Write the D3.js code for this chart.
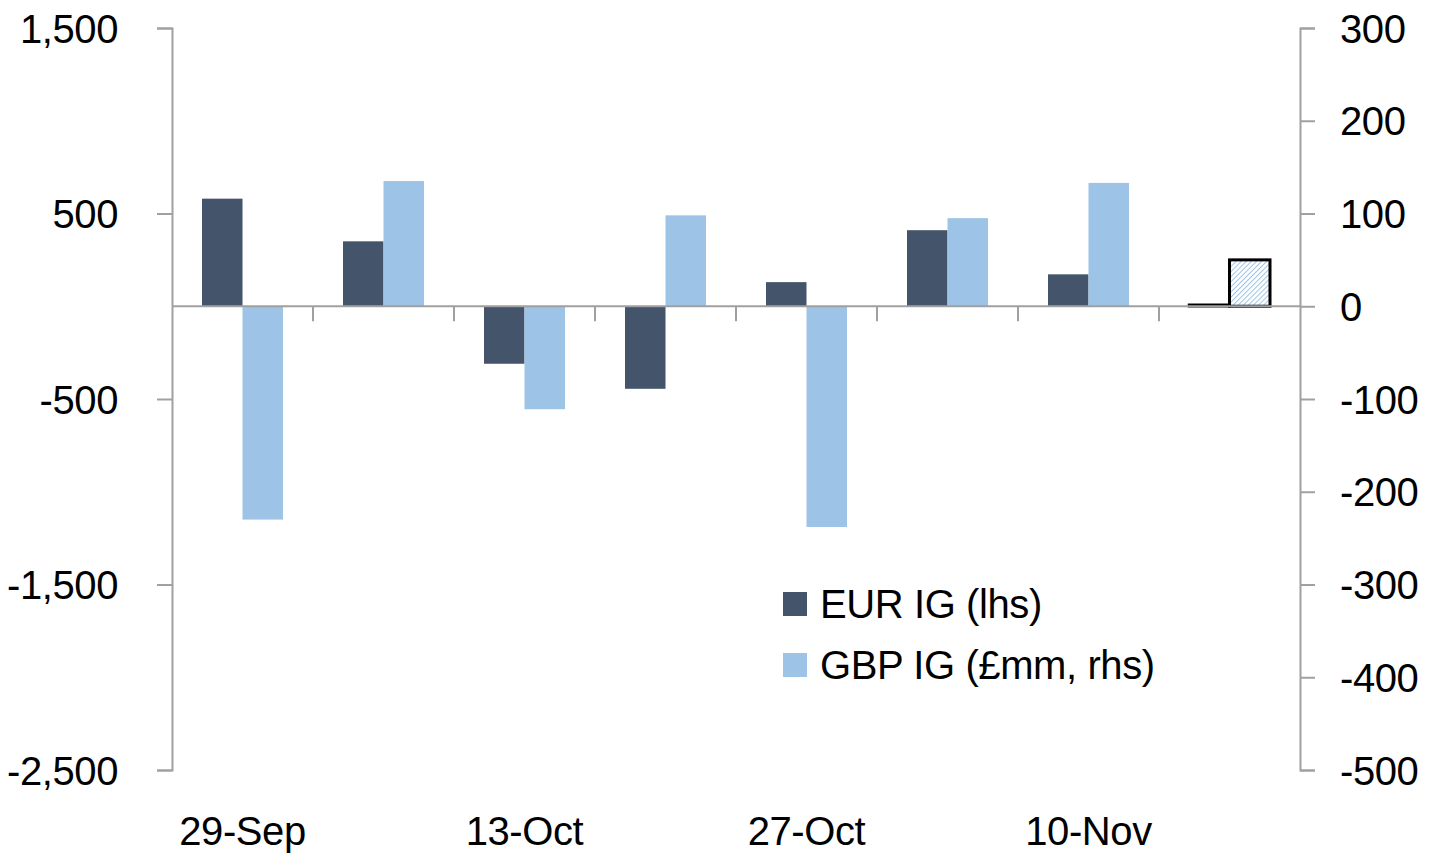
<!DOCTYPE html>
<html><head><meta charset="utf-8">
<script src="https://cdn.jsdelivr.net/npm/d3@7"></script>
<style>body{margin:0;background:#fff;} text{font-family:"Liberation Sans",Arial,sans-serif;letter-spacing:-0.4px;}</style>
</head><body>
<svg id="c" width="1430" height="865"></svg>
<script>
const weeks = ["29-Sep","6-Oct","13-Oct","20-Oct","27-Oct","3-Nov","10-Nov","17-Nov"];
const weekLabels = ["29-Sep","","13-Oct","","27-Oct","","10-Nov",""];
const eurIG = [580, 350, -310, -445, 130, 410, 172, 8];
const gbpIG = [-230, 135, -111, 98, -238, 95, 133, 50];
const partial = [false,false,false,false,false,false,false,true];
const leftTicks = [1500, 500, -500, -1500, -2500];
const rightTicks = [300, 200, 100, 0, -100, -200, -300, -400, -500];

const svg = d3.select("#c");
const L = 172, R = 1300, T = 28, B = 770;
const gray = "#a0a0a0";
const FS = 40;
const yL = d3.scaleLinear().domain([-2500, 1500]).range([B, T]);
const yR = d3.scaleLinear().domain([-500, 300]).range([B, T]);
const x = d3.scaleBand().domain(weeks).range([L, R]);
const bw = 40.5;
const off = (x.bandwidth() - 2*bw)/2;
const fmtL = d => d3.format(",")(d).replace("\u2212","-");
const fmtR = d => String(d);

const defs = svg.append("defs");
const pat = defs.append("pattern").attr("id","hatch").attr("patternUnits","userSpaceOnUse")
  .attr("width",3.6).attr("height",3.6).attr("patternTransform","rotate(45)");
pat.append("rect").attr("width",3.6).attr("height",3.6).attr("fill","#fff");
pat.append("line").attr("x1",0).attr("y1",0).attr("x2",0).attr("y2",3.6).attr("stroke","#9dc3e6").attr("stroke-width",2);

// bars
const g = svg.append("g");
weeks.forEach((w,i)=>{
  const x0 = x(w) + off;
  const ve = eurIG[i], vg = gbpIG[i];
  const eR = g.append("rect").attr("x", x0).attr("width", bw)
    .attr("y", Math.min(yL(ve), yL(0))).attr("height", Math.abs(yL(ve)-yL(0)));
  const gR = g.append("rect").attr("x", x0+bw).attr("width", bw)
    .attr("y", Math.min(yR(vg), yR(0))).attr("height", Math.abs(yR(vg)-yR(0)));
  if (partial[i]) {
    eR.attr("fill","#fff").attr("stroke","#000").attr("stroke-width",2.5);
    gR.attr("fill","url(#hatch)").attr("stroke","#000").attr("stroke-width",3);
  } else {
    eR.attr("fill","#44546a");
    gR.attr("fill","#9dc3e6");
  }
});

// zero line and category ticks
svg.append("line").attr("x1",L).attr("x2",R).attr("y1",yL(0)).attr("y2",yL(0)).attr("stroke",gray).attr("stroke-width",2);
weeks.slice(1).forEach(w=>{
  svg.append("line").attr("x1",x(w)).attr("x2",x(w)).attr("y1",yL(0)).attr("y2",yL(0)+15).attr("stroke",gray).attr("stroke-width",2);
});

// left axis
const la = svg.append("g").attr("transform",`translate(${L},0)`)
  .call(d3.axisLeft(yL).tickValues(leftTicks).tickSize(15).tickPadding(39).tickFormat(fmtL));
la.select(".domain").attr("stroke",gray).attr("stroke-width",2);
la.selectAll(".tick line").attr("stroke",gray).attr("stroke-width",2);
la.selectAll("text").attr("font-size",FS).attr("fill","#000").attr("font-family","Liberation Sans, Arial, sans-serif").attr("dy","0.35em");

// right axis
const ra = svg.append("g").attr("transform",`translate(${R},0)`)
  .call(d3.axisRight(yR).tickValues(rightTicks).tickSize(15).tickPadding(25).tickFormat(fmtR));
ra.select(".domain").attr("stroke",gray).attr("stroke-width",2);
ra.selectAll(".tick line").attr("stroke",gray).attr("stroke-width",2);
ra.selectAll("text").attr("font-size",FS).attr("fill","#000").attr("font-family","Liberation Sans, Arial, sans-serif").attr("dy","0.35em");

// x labels
weeks.forEach((w,i)=>{
  if (!weekLabels[i]) return;
  svg.append("text").attr("x", x(w)+x.bandwidth()/2).attr("y", 845).attr("text-anchor","middle")
    .attr("font-size",FS).text(weekLabels[i]);
});

// legend
const leg = [["EUR IG (lhs)","#44546a"],["GBP IG (£mm, rhs)","#9dc3e6"]];
leg.forEach((d,i)=>{
  const yy = 592 + i*61;
  svg.append("rect").attr("x",783).attr("y",yy).attr("width",24).attr("height",24).attr("fill",d[1]);
  svg.append("text").attr("x",820).attr("y",yy+26).attr("font-size",FS).text(d[0]);
});
</script>
</body></html>
